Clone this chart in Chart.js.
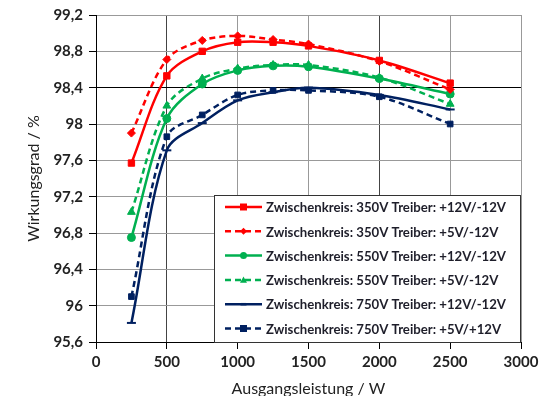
<!DOCTYPE html>
<html><head><meta charset="utf-8">
<script src="https://cdn.jsdelivr.net/npm/chart.js@4/dist/chart.umd.min.js"></script>
<style>html,body{margin:0;padding:0;background:#fff}#wrap{width:543px;height:396px;position:relative}</style>
</head><body><div id="wrap"><canvas id="c" width="543" height="396"></canvas></div>
<script>
// ---- data ----
const power = [250, 500, 750, 1000, 1250, 1500, 2000, 2500];
const eff350_12 = [97.57, 98.53, 98.80, 98.90, 98.90, 98.86, 98.70, 98.45];
const eff350_5  = [97.90, 98.71, 98.92, 98.97, 98.93, 98.88, 98.69, 98.38];
const eff550_12 = [96.75, 98.06, 98.44, 98.59, 98.64, 98.63, 98.50, 98.33];
const eff550_5  = [97.03, 98.20, 98.50, 98.61, 98.65, 98.65, 98.51, 98.22];
const eff750_12 = [95.81, 97.71, 98.01, 98.26, 98.35, 98.40, 98.32, 98.16];
const eff750_5  = [96.10, 97.86, 98.10, 98.32, 98.37, 98.37, 98.30, 98.00];
const seriesLabels = [
  'Zwischenkreis: 350V Treiber: +12V/-12V',
  'Zwischenkreis: 350V Treiber: +5V/-12V',
  'Zwischenkreis: 550V Treiber: +12V/-12V',
  'Zwischenkreis: 550V Treiber: +5V/-12V',
  'Zwischenkreis: 750V Treiber: +12V/-12V',
  'Zwischenkreis: 750V Treiber: +5V/+12V'
];
const xTitle = 'Ausgangsleistung / W';
const yTitle = 'Wirkungsgrad / %';

// ---- styles ----
const RED = '#ff0000', GREEN = '#00b050', NAVY = '#002060';
const styles = [
  {c: RED,   dash: [],     ps: 'rect',     r: 4.5},
  {c: RED,   dash: [6, 4], ps: 'rectRot',  r: 4},
  {c: GREEN, dash: [],     ps: 'circle',   r: 4},
  {c: GREEN, dash: [6, 4], ps: 'triangle', r: 4.5},
  {c: NAVY,  dash: [],     ps: 'line',     r: 4.5},
  {c: NAVY,  dash: [6, 4], ps: 'rect',     r: 4}
];
const allSeries = [eff350_12, eff350_5, eff550_12, eff550_5, eff750_12, eff750_5];

const datasets = allSeries.map((vals, i) => ({
  label: seriesLabels[i],
  data: power.map((p, j) => ({x: p, y: vals[j]})),
  borderColor: styles[i].c,
  backgroundColor: styles[i].c,
  borderWidth: 2.5,
  borderDash: styles[i].dash,
  pointStyle: styles[i].ps,
  pointRadius: styles[i].r,
  pointBorderWidth: styles[i].ps === 'line' ? 2 : 1,
  pointBackgroundColor: styles[i].c,
  pointBorderColor: styles[i].c,
  tension: 0.33,
  fill: false
}));

function drawMarker(ctx, style, x, y, r, color) {
  ctx.save();
  ctx.setLineDash([]);
  ctx.fillStyle = color; ctx.strokeStyle = color;
  ctx.beginPath();
  if (style === 'rect') { ctx.rect(x - r, y - r, 2 * r, 2 * r); ctx.fill(); }
  else if (style === 'rectRot') { ctx.moveTo(x, y - r); ctx.lineTo(x + r, y); ctx.lineTo(x, y + r); ctx.lineTo(x - r, y); ctx.closePath(); ctx.fill(); }
  else if (style === 'circle') { ctx.arc(x, y, r, 0, Math.PI * 2); ctx.fill(); }
  else if (style === 'triangle') { ctx.moveTo(x, y - r); ctx.lineTo(x + r, y + r * 0.8); ctx.lineTo(x - r, y + r * 0.8); ctx.closePath(); ctx.fill(); }
  else if (style === 'line') { ctx.lineWidth = 2.5; ctx.moveTo(x - r, y); ctx.lineTo(x + r, y); ctx.stroke(); }
  ctx.restore();
}

const boxLegend = {
  id: 'boxLegend',
  afterDatasetsDraw(chart) {
    const ctx = chart.ctx, ca = chart.chartArea;
    const left = ca.left + 118, top = ca.top + 180, right = ca.right, bottom = ca.bottom;
    ctx.save();
    ctx.fillStyle = '#fff';
    ctx.fillRect(left, top, right - left, bottom - top);
    ctx.strokeStyle = '#333'; ctx.lineWidth = 1;
    ctx.strokeRect(left + 0.5, top + 0.5, right - left - 1, bottom - top);
    chart.data.datasets.forEach((ds, i) => {
      const y = top + 12 + i * 24.3;
      const st = styles[i];
      ctx.save();
      ctx.strokeStyle = st.c; ctx.lineWidth = 2.5;
      ctx.setLineDash(st.dash);
      ctx.beginPath(); ctx.moveTo(left + 11, y); ctx.lineTo(left + 48, y); ctx.stroke();
      ctx.restore();
      drawMarker(ctx, st.ps, left + 29.5, y, st.ps === 'line' ? 3 : 3.5, st.c);
      ctx.fillStyle = '#1e1e2a';
      ctx.font = 'bold 13.2px Lato';
      ctx.textBaseline = 'middle'; ctx.textAlign = 'left';
      ctx.fillText(ds.label, left + 52, y + 1);
    });
    ctx.restore();
  }
};

const fmt = v => (Math.round(v * 10) / 10).toString().replace('.', ',');

new Chart(document.getElementById('c'), {
  type: 'line',
  data: {datasets},
  options: {
    responsive: false,
    animation: false,
    devicePixelRatio: 1,
    layout: {padding: {top: 15, right: 22, left: 0, bottom: 0}},
    plugins: {legend: {display: false}, tooltip: {enabled: false}},
    scales: {
      x: {
        type: 'linear', min: 0, max: 3000,
        ticks: {stepSize: 500, color: '#222', font: {family: 'Lato', weight: 'bold', size: 15}, padding: 4, maxRotation: 0, callback: v => String(v)},
        grid: {color: ctx => (ctx.tick && (ctx.tick.value === 500 || ctx.tick.value === 2000)) ? '#444' : '#999', lineWidth: 1, tickLength: 7, tickColor: '#000', drawTicks: true},
        border: {color: '#000', width: 1},
        title: {display: true, text: xTitle, color: '#222', font: {family: 'Lato', size: 16}, padding: {top: 0, bottom: -2}},
        afterFit: s => { s.height = 54; }
      },
      y: {
        type: 'linear', min: 95.6, max: 99.2,
        ticks: {stepSize: 0.4, color: '#222', font: {family: 'Lato', weight: 'bold', size: 15}, padding: 6, callback: v => fmt(v)},
        grid: {color: ctx => (ctx.tick && Math.abs(ctx.tick.value - 98.4) < 1e-6) ? '#000' : '#999', lineWidth: 1, tickLength: 7, tickColor: '#000'},
        border: {color: '#000', width: 1},
        title: {display: true, text: yTitle, color: '#222', font: {family: 'Lato', size: 16}, padding: {top: 24, bottom: 0}},
        afterFit: s => { s.width = 96; }
      }
    }
  },
  plugins: [boxLegend]
});
</script>
</body></html>
